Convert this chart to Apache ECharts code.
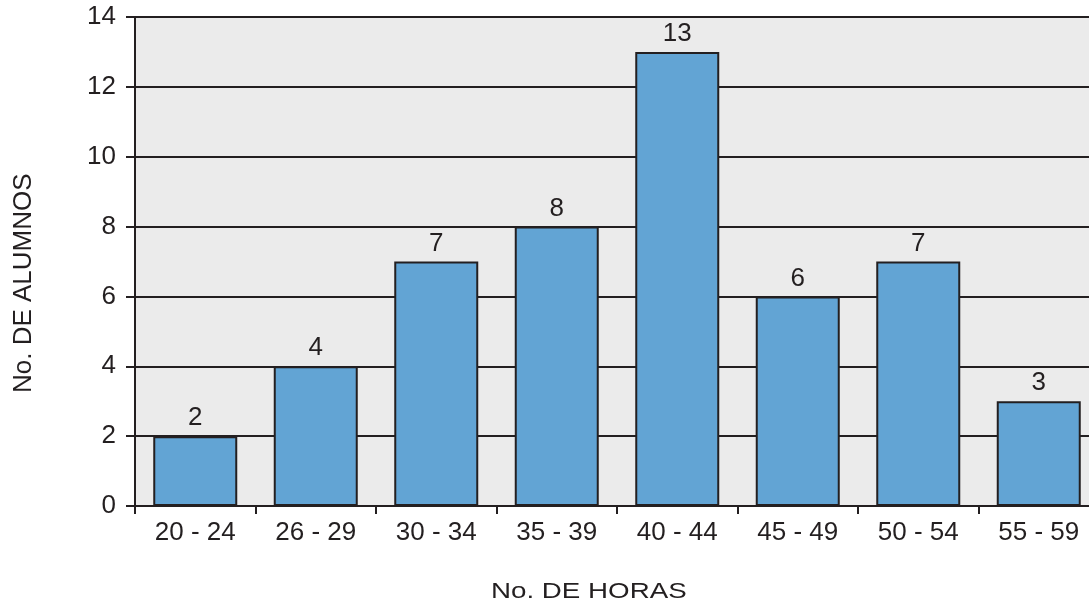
<!DOCTYPE html>
<html>
<head>
<meta charset="utf-8">
<script src="https://cdn.jsdelivr.net/npm/echarts@6/dist/echarts.min.js"></script>
<style>
  html, body { margin: 0; padding: 0; background: #fff; }
  #chart { width: 1089px; height: 609px; }
</style>
</head>
<body>
<div id="chart"></div>
<script>
// horas de estudio por alumno
var categorias = ['20 - 24', '26 - 29', '30 - 34', '35 - 39', '40 - 44', '45 - 49', '50 - 54', '55 - 59'];
var alumnos = [2, 4, 7, 8, 13, 6, 7, 3];
var ticksY = [0, 14, 2];  // min, max, intervalo

var chart = echarts.init(document.getElementById('chart'));
var fuente = 'Liberation Sans, Arial, sans-serif';
var negro = '#231f20';

var option = {
  animation: false,
  grid: {
    left: 135,
    top: 17,
    width: 964,   // el area sigue mas alla del borde derecho
    height: 489,
    outerBoundsMode: 'none',
    show: true,
    backgroundColor: '#ebebeb',
    borderWidth: 0
  },
  xAxis: {
    type: 'category',
    data: categorias,
    axisLine: { show: true, lineStyle: { color: negro, width: 2 } },
    axisTick: { show: true, length: 8, lineStyle: { color: negro, width: 2 } },
    axisLabel: { color: negro, fontSize: 26, fontFamily: fuente, margin: 14 }
  },
  yAxis: {
    type: 'value',
    min: ticksY[0],
    max: ticksY[1],
    interval: ticksY[2],
    axisLine: { show: true, lineStyle: { color: negro, width: 2 } },
    axisTick: { show: true, length: 9, lineStyle: { color: negro, width: 2 } },
    axisLabel: { color: negro, fontSize: 26, fontFamily: fuente, margin: 19 },
    splitLine: { show: true, lineStyle: { color: negro, width: 2 } }
  },
  series: [{
    type: 'bar',
    data: alumnos,
    barWidth: 84,
    itemStyle: { color: '#62a4d4', borderColor: negro, borderWidth: 2 },
    label: {
      show: true,
      position: 'top',
      distance: 5,
      color: negro,
      fontSize: 26,
      fontFamily: fuente
    }
  }],
  graphic: [
    {
      type: 'text',
      x: 491,
      y: 581,
      scaleX: 1.26,
      style: { text: 'No. DE HORAS', fill: negro, font: '22px ' + fuente }
    },
    {
      type: 'text',
      x: 11,
      y: 393,
      rotation: Math.PI / 2,
      style: { text: 'No. DE ALUMNOS', fill: negro, font: '26px ' + fuente }
    }
  ]
};
chart.setOption(option);
</script>
</body>
</html>
